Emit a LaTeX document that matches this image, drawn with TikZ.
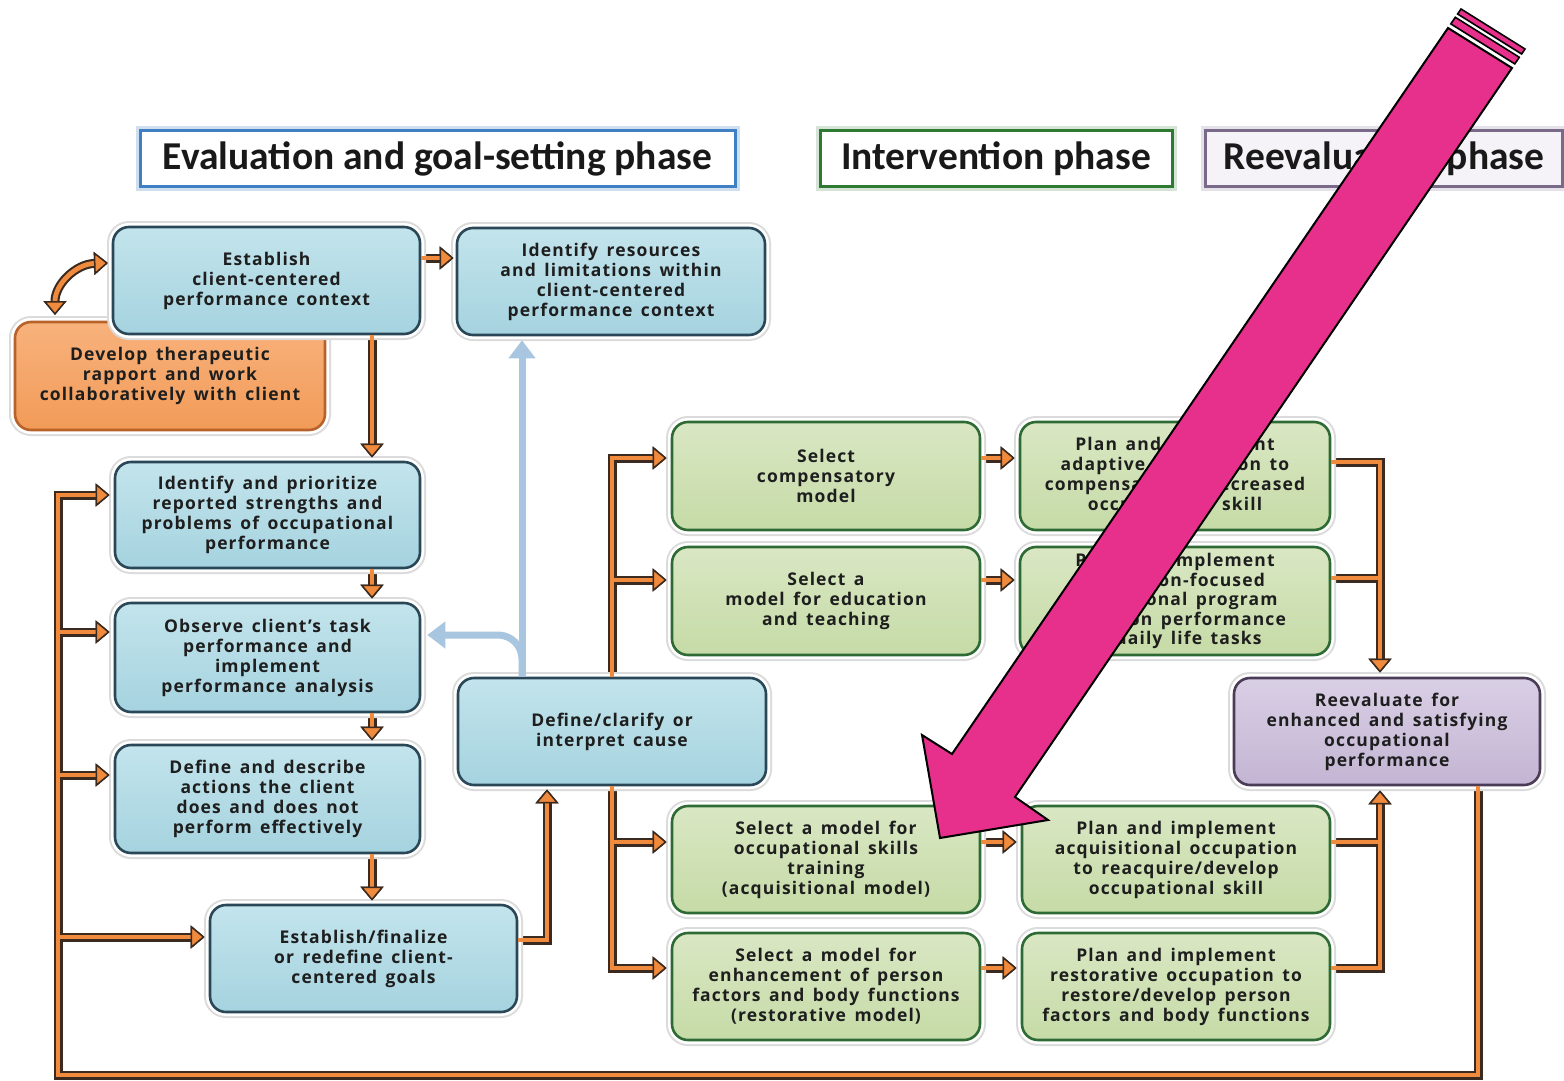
\documentclass[tikz,border=0pt]{standalone}
\usepackage{fontspec}
\setmainfont{Carlito}
\newfontfamily\boxfont{Open Sans}[LetterSpace=6.5,WordSpace=1.5]
\usetikzlibrary{arrows.meta,calc}
\pgfdeclarelayer{shaft}
\pgfsetlayers{shaft,main}
\definecolor{bT}{HTML}{C3E4EC}\definecolor{bB}{HTML}{A5D3DF}\definecolor{bD}{HTML}{2A4757}
\definecolor{gT}{HTML}{D9E7C3}\definecolor{gB}{HTML}{C6DBA7}\definecolor{gD}{HTML}{2E6B34}
\definecolor{pT}{HTML}{D9CFE5}\definecolor{pB}{HTML}{C3B5D3}\definecolor{pD}{HTML}{4A3B57}
\definecolor{orT}{HTML}{F8B27C}\definecolor{orB}{HTML}{F29B58}\definecolor{orD}{HTML}{B8622A}
\definecolor{ofill}{HTML}{F08A3C}\definecolor{odark}{HTML}{3B2A1F}
\definecolor{bline}{HTML}{A8C6DF}
\definecolor{pink}{HTML}{E7308C}
\definecolor{txt}{HTML}{1E1E1E}
\definecolor{hblue}{HTML}{3F7FC4}\definecolor{hgreen}{HTML}{2F7A33}\definecolor{hpurple}{HTML}{7A6A8A}
\newcommand\oc[2][]{%
  \begin{pgfonlayer}{shaft}\draw[oshadow,#1] #2;\end{pgfonlayer}
  \draw[oshaft,#1] #2;}
\begin{document}
\begin{tikzpicture}[x=1pt,y=-1pt,
  otip/.tip={Triangle[length=14pt,width=23pt,fill=ofill,color=odark,line width=1.5pt]},
  oshadow/.style={draw=odark,line width=9pt},
  oshaft/.style={draw=ofill,line width=4.8pt},
  box/.style={rounded corners=16pt,line width=2.6pt,minimum width=307pt,minimum height=107pt,
    align=center,inner sep=2pt,text=txt,font=\boxfont\bfseries\fontsize{17.5}{20}\selectfont,
    preaction={draw=black!14,line width=12pt},preaction={draw=white,line width=8pt}},
  bbox/.style={box,draw=bD,top color=bT,bottom color=bB},
  gbox/.style={box,draw=gD,top color=gT,bottom color=gB},
  pbox/.style={box,draw=pD,top color=pT,bottom color=pB},
  obox/.style={box,draw=orD,top color=orT,bottom color=orB},
  hdr/.style={line width=3pt,minimum height=56pt,inner sep=0pt,text=black!90,
    font=\bfseries\fontsize{39.5}{44}\selectfont},
  blueline/.style={draw=bline,line width=7pt},
  pinkarrow/.style={fill=pink,draw=black,line width=2pt,line join=miter}
]
\begin{pgfonlayer}{shaft}
\fill[white] (0,0) rectangle (1564,1081);
\end{pgfonlayer}
\useasboundingbox (0,0) rectangle (1564,1081);

% headers
\node[hdr,draw=hblue,fill=white,minimum width=595pt,preaction={draw=hblue!25,line width=9pt}] (heval) at (437.5,158.5) {Evaluation and goal-setting phase};
\node[hdr,draw=hgreen,fill=white,minimum width=352pt,preaction={draw=hgreen!20,line width=9pt}] (hint) at (996,158.5) {Intervention phase};
\node[hdr,draw=hpurple,fill=pT!25,minimum width=357pt,preaction={draw=hpurple!20,line width=9pt}] (hre) at (1384,158.5) {Reevaluation phase};

% boxes
\node[obox,minimum width=310pt,minimum height=108pt] (rap) at (170,376) {Develop therapeutic\\rapport and work\\collaboratively with client};
\node[bbox] (est) at (266.5,280.5) {Establish\\client-centered\\performance context};
\node[bbox,minimum width=308pt] (res) at (611,281.5) {Identify resources\\and limitations within\\client-centered\\performance context};
\node[bbox,minimum width=305pt,minimum height=106pt] (pri) at (267.5,515) {Identify and prioritize\\reported strengths and\\problems of occupational\\performance};
\node[bbox,minimum width=305pt,minimum height=109pt] (obs) at (267.5,657.5) {Observe client’s task\\performance and\\implement\\performance analysis};
\node[bbox,minimum width=305pt,minimum height=108pt] (des) at (267.5,799) {Define and describe\\actions the client\\does and does not\\perform effectively};
\node[bbox] (fin) at (363.5,958.5) {Establish/finalize\\or redefine client-\\centered goals};
\node[bbox,minimum width=308pt] (def) at (612,731.5) {Define/clarify or\\interpret cause};
\node[gbox,minimum width=308pt,minimum height=108pt] (comp) at (826,476) {Select\\compensatory\\model};
\node[gbox,minimum width=308pt,minimum height=108pt] (edu) at (826,601) {Select a\\model for education\\and teaching};
\node[gbox,minimum width=310pt,minimum height=108pt] (padp) at (1175,476) {Plan and implement\\adaptive occupation to\\compensate for decreased\\occupational skill};
\node[gbox,minimum width=310pt,minimum height=108pt,font=\boxfont\bfseries\fontsize{17.5}{19.5}\selectfont] (pedu) at (1175,601) {Plan and implement\\education-focused\\educational program\\based on performance\\of daily life tasks};
\node[gbox,minimum width=308pt] (acq) at (826,859.5) {Select a model for\\occupational skills\\training\\(acquisitional model)};
\node[gbox,minimum width=308pt] (pacq) at (1176,859.5) {Plan and implement\\acquisitional occupation\\to reacquire/develop\\occupational skill};
\node[gbox,minimum width=308pt] (rest) at (826,986.5) {Select a model for\\enhancement of person\\factors and body functions\\(restorative model)};
\node[gbox,minimum width=308pt] (prest) at (1176,986.5) {Plan and implement\\restorative occupation to\\restore/develop person\\factors and body functions};
\node[pbox,minimum width=306pt] (reev) at (1387,731.5) {Reevaluate for\\enhanced and satisfying\\occupational\\performance};

% helper coordinates
\coordinate (lx) at (372,0);
\coordinate (rx) at (1380,0);
\coordinate (fbR) at (1478,1075);
\coordinate (fbL) at (58,1075);
\coordinate (cA) at (55,315);
\coordinate (cB) at (108,263);

% light blue connectors
\draw[blueline,-{Triangle[length=18pt,width=26pt]},shorten >=4pt] (def.north -| 522,0) -- (res.south -| 522,0);
\draw[blueline,rounded corners=24pt,-{Triangle[length=18pt,width=26pt]},shorten >=6pt] (def.north -| 522,0) |- (obs.east |- 0,635);

% orange connectors
\oc[{otip}-{otip}]{(cA) .. controls (55,284) and (76,264) .. (cB)}
\oc[-{otip},shorten >=2pt]{(est.east |- 0,258) -- (res.west |- 0,258)}
\oc[-{otip},shorten >=3pt]{(est.south -| lx) -- (pri.north -| lx)}
\oc[-{otip},shorten >=3pt]{(pri.south -| lx) -- (obs.north -| lx)}
\oc[-{otip},shorten >=3pt]{(obs.south -| lx) -- (des.north -| lx)}
\oc[-{otip},shorten >=3pt]{(des.south -| lx) -- (fin.north -| lx)}
\oc[-{otip},shorten >=3pt]{(fin.east |- 0,940) -| (def.south -| 547,0)}
\oc[-{otip},shorten >=4pt]{(def.north) |- (comp.west |- 0,458)}
\oc[-{otip},shorten >=4pt]{(def.north |- 0,580) -- (edu.west |- 0,580)}
\oc[-{otip},shorten >=4pt]{(def.south) |- (rest.west |- 0,968)}
\oc[-{otip},shorten >=4pt]{(def.south |- 0,842) -- (acq.west |- 0,842)}
\oc[-{otip},shorten >=4pt]{(comp.east |- 0,458) -- (padp.west |- 0,458)}
\oc[-{otip},shorten >=4pt]{(edu.east |- 0,580) -- (pedu.west |- 0,580)}
\oc[-{otip},shorten >=4pt]{(acq.east |- 0,842) -- (pacq.west |- 0,842)}
\oc[-{otip},shorten >=4pt]{(rest.east |- 0,968) -- (prest.west |- 0,968)}
\oc[-{otip},shorten >=4pt]{(padp.east |- 0,462) -| (reev.north -| rx)}
\oc{(pedu.east |- 0,578) -- (rx |- 0,578)}
\oc[-{otip},shorten >=4pt]{(prest.east |- 0,968) -| (reev.south -| rx)}
\oc{(pacq.east |- 0,842) -- (rx |- 0,842)}
\oc[-{otip},shorten >=4pt]{(reev.south -| fbR) -- (fbR) -- (fbL) |- (pri.west |- 0,495)}
\oc[-{otip},shorten >=4pt]{(fbL |- 0,632) -- (obs.west |- 0,632)}
\oc[-{otip},shorten >=4pt]{(fbL |- 0,775) -- (des.west |- 0,775)}
\oc[-{otip},shorten >=4pt]{(fbL |- 0,937) -- (fin.west |- 0,937)}

% pink arrow
\draw[pinkarrow] (1448,28) -- (952,754) -- (922,735) -- (940,838) -- (1048,820) -- (1015,797) -- (1512,68) -- cycle;
\draw[pinkarrow,line width=1.6pt] (1450.8,23.9) -- (1514.8,63.9) -- (1519.3,57.3) -- (1455.3,17.3) -- cycle;
\draw[pinkarrow,line width=1.6pt] (1457.6,14.0) -- (1521.6,54.0) -- (1525.0,49.0) -- (1461.0,9.0) -- cycle;
\end{tikzpicture}
\end{document}
